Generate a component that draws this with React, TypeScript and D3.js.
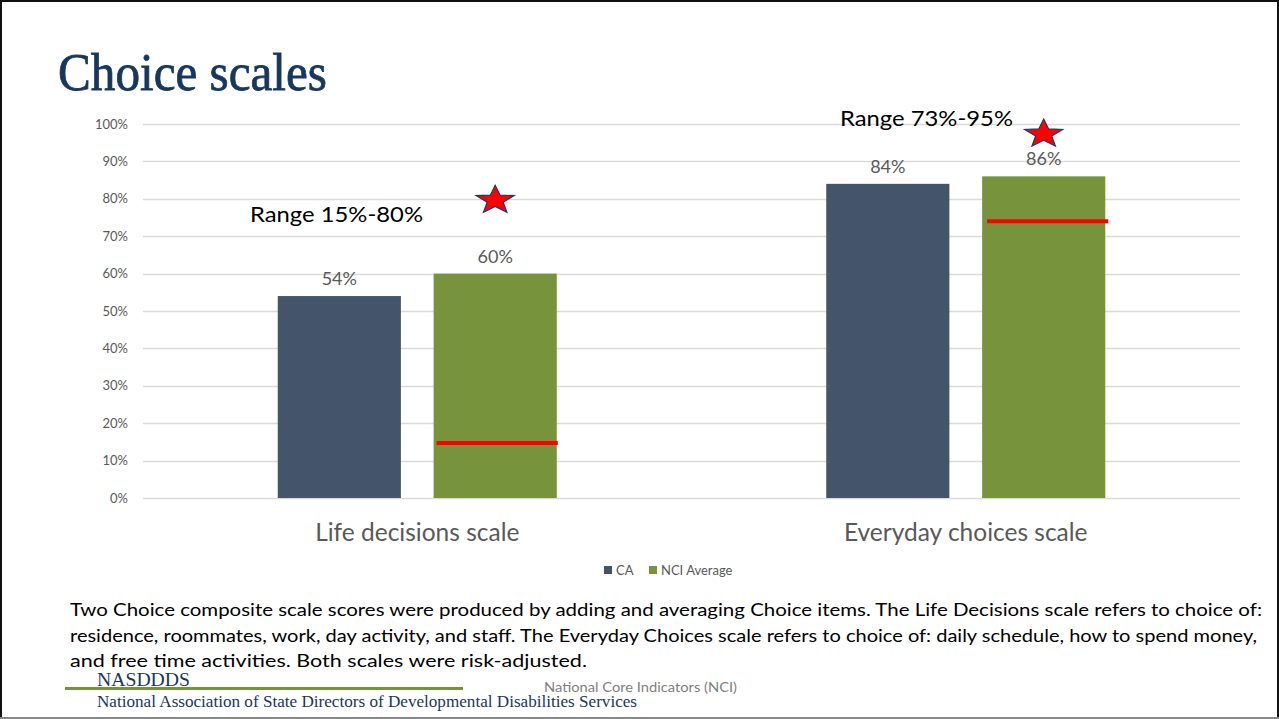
import { useEffect, useRef } from 'react';
import * as d3 from 'd3';

const W = 1279;
const H = 719;

const categories = ['Life decisions scale', 'Everyday choices scale'];
const seriesNames = ['CA', 'NCI Average'];
const caValues = [0.54, 0.84];
const nciValues = [0.60, 0.86];
const rangeMin = [0.147, 0.74];
const starValues = [0.80, 0.977];
const rangeLabels = ['Range 15%-80%', 'Range 73%-95%'];
const yTicks = [0, 0.1, 0.2, 0.3, 0.4, 0.5, 0.6, 0.7, 0.8, 0.9, 1];
const noteLines = [
  'Two Choice composite scale scores were produced by adding and averaging Choice items. The Life Decisions scale refers to choice of:',
  'residence, roommates, work, day activity, and staff. The Everyday Choices scale refers to choice of: daily schedule, how to spend money,',
  'and free time activities. Both scales were risk-adjusted.',
];
const noteWidths = [1192, 1187, 517];

const COLORS = { CA: '#44546a', NCI: '#77933c', grid: '#d9d9d9', text: '#595959', navy: '#17375e' };

// 5-point star squashed into a w x h box, centred at 0,0
function starPath(w: number, h: number) {
  const pts: [number, number][] = [];
  for (let i = 0; i < 10; i++) {
    const r = i % 2 === 0 ? 1 : 0.42;
    const a = -Math.PI / 2 + (i * Math.PI) / 5;
    pts.push([Math.cos(a) * r, Math.sin(a) * r]);
  }
  const minY = d3.min(pts, p => p[1])!;
  const maxY = d3.max(pts, p => p[1])!;
  const maxX = d3.max(pts, p => p[0])!;
  const sx = w / 2 / maxX;
  const sy = h / (maxY - minY);
  const cy = (maxY + minY) / 2;
  return 'M' + pts.map(p => `${p[0] * sx},${(p[1] - cy) * sy}`).join('L') + 'Z';
}

export default function App() {
  const svgRef = useRef<SVGSVGElement>(null);

  useEffect(() => {
    document.body.style.margin = '0';
    const svg = d3.select(svgRef.current);
    svg.selectAll('*').remove();
    svg.attr('width', W).attr('height', H);

    svg.append('rect').attr('width', W).attr('height', H).attr('fill', '#fff');

    // slide frame
    svg.append('line').attr('x1', 0).attr('x2', W).attr('y1', 1).attr('y2', 1).attr('stroke', '#111').attr('stroke-width', 2);
    svg.append('line').attr('x1', 1).attr('x2', 1).attr('y1', 0).attr('y2', H).attr('stroke', '#111').attr('stroke-width', 2);
    svg.append('line').attr('x1', W - 1).attr('x2', W - 1).attr('y1', 0).attr('y2', H).attr('stroke', '#111').attr('stroke-width', 2);
    svg.append('line').attr('x1', 0).attr('x2', W).attr('y1', H - 1).attr('y2', H - 1).attr('stroke', '#888').attr('stroke-width', 2);

    svg.append('text').attr('x', 58).attr('y', 90).text('Choice scales')
      .attr('fill', COLORS.navy).attr('stroke', COLORS.navy).attr('stroke-width', 0.8)
      .style('font-family', '"Liberation Serif", serif')
      .style('font-size', '52px').attr('textLength', 269).attr('lengthAdjust', 'spacingAndGlyphs');

    const x0 = d3.scaleBand().domain(categories).range([143, 1240]).padding(0);
    const x1 = d3.scaleBand().domain(seriesNames).range([x0.bandwidth() / 2 - 139.5, x0.bandwidth() / 2 + 139.5]).paddingInner(0.21).paddingOuter(0);
    const y = d3.scaleLinear().domain([0, 1]).range([498, 124]);

    const g = svg.append('g');

    // grid
    g.selectAll('.grid').data(yTicks).join('line')
      .attr('x1', 143).attr('x2', 1240)
      .attr('y1', d => Math.round(y(d)) + 0.5).attr('y2', d => Math.round(y(d)) + 0.5)
      .attr('stroke', COLORS.grid).attr('stroke-width', 1.5);

    g.selectAll('.tick').data(yTicks).join('text')
      .attr('x', 128).attr('y', d => y(d) + 4.5).attr('text-anchor', 'end')
      .text(d => d3.format('.0%')(d))
      .attr('fill', COLORS.text).style('font-family', 'Lato, sans-serif').style('font-size', '13px');

    const series = [
      { name: 'CA', values: caValues, color: COLORS.CA },
      { name: 'NCI Average', values: nciValues, color: COLORS.NCI },
    ];

    series.forEach(s => {
      categories.forEach((c, i) => {
        const bx = x0(c)! + x1(s.name)!;
        const v = s.values[i];
        g.append('rect').attr('x', bx).attr('y', y(v)).attr('width', x1.bandwidth()).attr('height', y(0) - y(v))
          .attr('fill', s.color);
        g.append('text').attr('x', bx + x1.bandwidth() / 2).attr('y', y(v) - 11).attr('text-anchor', 'middle')
          .text(d3.format('.0%')(v)).attr('fill', COLORS.text)
          .style('font-family', 'Lato, sans-serif').style('font-size', '18px');
      });
    });

    // range markers on NCI bars
    categories.forEach((c, i) => {
      const bx = x0(c)! + x1('NCI Average')!;
      const bw = x1.bandwidth();
      g.append('line').attr('x1', bx + 3 + i * 2).attr('x2', bx + bw + 1 + i * 2)
        .attr('y1', y(rangeMin[i])).attr('y2', y(rangeMin[i]))
        .attr('stroke', '#ff0000').attr('stroke-width', 4);
      g.append('path').attr('d', starPath(38, 27))
        .attr('transform', `translate(${bx + bw / 2},${y(starValues[i])})`)
        .attr('fill', '#ff0000').attr('stroke', '#203864').attr('stroke-width', 1.2);
    });

    // range labels
    const rangeX = [250, 840];
    const rangeY = [0.738, 0.995];
    rangeLabels.forEach((t, i) => {
      g.append('text').attr('x', rangeX[i]).attr('y', y(rangeY[i])).text(t)
        .attr('fill', '#000').style('font-family', 'Lato, sans-serif').style('font-size', '21px')
        .attr('textLength', 173).attr('lengthAdjust', 'spacingAndGlyphs');
    });

    // category labels
    g.selectAll('.cat').data(categories).join('text')
      .attr('x', d => x0(d)! + x0.bandwidth() / 2).attr('y', 541).attr('text-anchor', 'middle')
      .text(d => d).attr('fill', COLORS.text)
      .style('font-family', 'Lato, sans-serif').style('font-size', '24.5px');

    // legend
    const legX = [604, 649];
    series.forEach((s, i) => {
      g.append('rect').attr('x', legX[i]).attr('y', 566).attr('width', 8).attr('height', 8).attr('fill', s.color);
      g.append('text').attr('x', legX[i] + 12).attr('y', 575).text(s.name).attr('fill', COLORS.text)
        .style('font-family', 'Lato, sans-serif').style('font-size', '13px');
    });

    // explanatory note
    noteLines.forEach((t, i) => {
      svg.append('text').attr('x', 70).attr('y', 616 + i * 25.5).text(t).attr('fill', '#000')
        .style('font-family', 'Lato, sans-serif').style('font-size', '17.5px')
        .attr('textLength', noteWidths[i]).attr('lengthAdjust', 'spacingAndGlyphs');
    });

    // footer
    svg.append('text').attr('x', 97).attr('y', 686).text('NASDDDS').attr('fill', COLORS.navy)
      .style('font-family', '"Liberation Serif", serif').style('font-size', '18px')
      .attr('textLength', 93).attr('lengthAdjust', 'spacingAndGlyphs');
    svg.append('line').attr('x1', 65).attr('x2', 463).attr('y1', 688.5).attr('y2', 688.5)
      .attr('stroke', '#77933c').attr('stroke-width', 3);
    svg.append('text').attr('x', 97).attr('y', 707).text('National Association of State Directors of Developmental Disabilities Services')
      .attr('fill', COLORS.navy).style('font-family', '"Liberation Serif", serif').style('font-size', '16px')
      .attr('textLength', 540).attr('lengthAdjust', 'spacingAndGlyphs');
    svg.append('text').attr('x', 544).attr('y', 692).text('National Core Indicators (NCI)')
      .attr('fill', '#7f7f7f').style('font-family', 'Lato, sans-serif').style('font-size', '13px')
      .attr('textLength', 193).attr('lengthAdjust', 'spacingAndGlyphs');
  }, []);

  return <svg ref={svgRef} style={{ display: 'block', position: 'absolute', left: 0, top: 0 }} />;
}
